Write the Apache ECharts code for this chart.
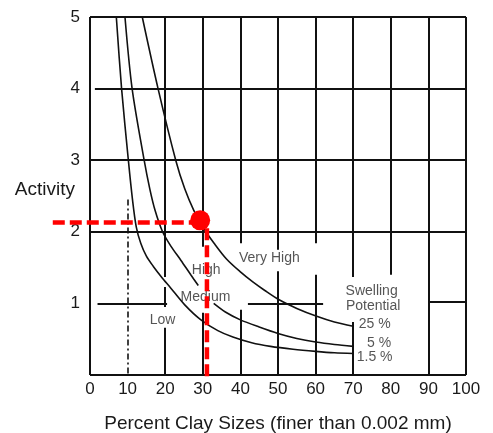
<!DOCTYPE html>
<html>
<head>
<meta charset="utf-8">
<script src="https://cdn.jsdelivr.net/npm/echarts@6/dist/echarts.min.js"></script>
<style>
  html, body { margin: 0; padding: 0; background: #fff; }
  #chart { width: 493px; height: 433px; }
</style>
</head>
<body>
<div id="chart"></div>
<script>
// swelling potential curves, [percent clay, activity]; '-' marks a gap in the drawn line
const curve15 = [[7.0, 5.0], [8.4, 4.0], [10.2, 3.0], [11.3, 2.45], [12.3, 2.07], [13.5, 1.84], [15, 1.66], [16.8, 1.52], [19, 1.37], [21.4, 1.22], [25.2, 0.98], [29.5, 0.77], [34, 0.62], [38, 0.53], [43, 0.45], [48, 0.40], [54, 0.36], [60, 0.33], [65, 0.31], [70, 0.30]];
const curve5 = [[9.3, 5.0], [11.2, 4.0], [14.4, 3.0], [15.9, 2.6], [17.3, 2.3], [19.3, 2.0], [21.5, 1.8], [24.2, 1.6], [26.8, 1.4], [28.8, 1.25], '-', [32.9, 1.0], [36, 0.88], [40, 0.77], [45, 0.67], [50, 0.58], [55, 0.51], [60, 0.46], [65, 0.425], [70, 0.40]];
const curve25 = [[13.9, 5.0], [18.1, 4.0], [22.8, 3.0], [25.2, 2.6], [27.6, 2.3], [30.2, 2.05], [33, 1.84], [36.3, 1.62], [40, 1.44], [43.3, 1.30], [46.5, 1.18], [50.3, 1.05], [55, 0.93], [60.3, 0.82], [65, 0.74], [70, 0.68]];

// hand-drawn grid of the scanned figure, segments [x1, y1, x2, y2]
const gridSegments = [
  [0, 0, 0, 5], [0, 5, 100, 5], [100, 5, 100, 0], [0, 0, 100, 0],
  [1.3, 4, 100, 4], [0, 3, 100, 3], [0, 2, 100, 2],
  [2, 1, 20.5, 1], [42, 1, 62, 1], [90, 1.03, 100, 1.03],
  [20, 5, 20, 1.37], [20, 1.23, 20, 0.95], [20, 0.66, 20, 0],
  [30, 5, 30, 1.79], [30, 0.87, 30, 0],
  [40, 5, 40, 1.84], [40, 0.91, 40, 0],
  [50, 5, 50, 1.75], [50, 1.45, 50, 0],
  [60, 5, 60, 1.84], [60, 1.40, 60, 0],
  [70, 5, 70, 1.37], [70, 0.74, 70, 0],
  [80, 5, 80, 1.40],
  [90, 5, 90, 0]
];
const dottedSegments = [[10, 2.45, 10, 0]];

// region / curve annotations
const noteNames = ['Very High', 'High', 'Medium', 'Low', 'Swelling', 'Potential', '25 %', '5 %', '1.5 %'];
const noteX = [47.7, 30.9, 30.7, 19.3, 74.9, 75.3, 75.7, 76.9, 75.7];
const noteY = [1.63, 1.47, 1.09, 0.77, 1.17, 0.96, 0.71, 0.45, 0.25];

// red read-off: point and its guide lines
const markPoint = [29.3, 2.16];
const guideH = [[-9.9, 2.13], [29.3, 2.13]];
const guideV = [[31.1, 2.05], [31.1, -0.03]];

const FONT = '"Liberation Sans", Arial, sans-serif';
const INK = '#111';
const TEXT = '#1a1a1a';

const chart = echarts.init(document.getElementById('chart'), null, { renderer: 'canvas' });

const toLines = segs => segs.map(s => ({ coords: [[s[0], s[1]], [s[2], s[3]]] }));
const curveSeries = data => ({
  type: 'line', data, symbol: 'none', smooth: 0.3,
  lineStyle: { color: INK, width: 1.6 }, z: 3, silent: true
});

const option = {
  animation: false,
  backgroundColor: '#fff',
  grid: { left: 90, right: 27, top: 17, bottom: 58, outerBoundsMode: 'none', containLabel: false },
  xAxis: {
    type: 'value', min: 0, max: 100, interval: 10,
    axisLine: { show: false }, axisTick: { show: false }, splitLine: { show: false },
    axisLabel: { color: TEXT, fontSize: 17, fontFamily: FONT, margin: 6 },
    name: 'Percent Clay Sizes (finer than 0.002 mm)',
    nameLocation: 'middle', nameGap: 49, nameMoveOverlap: false,
    nameTextStyle: { color: TEXT, fontSize: 19, fontFamily: FONT, verticalAlign: 'middle' }
  },
  yAxis: {
    type: 'value', min: 0, max: 5, interval: 1,
    axisLine: { show: false }, axisTick: { show: false }, splitLine: { show: false },
    axisLabel: { color: TEXT, fontSize: 17, fontFamily: FONT, margin: 10, showMinLabel: false },
    name: 'Activity',
    nameLocation: 'middle', nameRotate: 0, nameGap: 15, nameMoveOverlap: false,
    nameTextStyle: { color: TEXT, fontSize: 19, fontFamily: FONT, align: 'right', verticalAlign: 'bottom', lineHeight: 12 }
  },
  series: [
    {
      type: 'lines', coordinateSystem: 'cartesian2d', polyline: false, silent: true,
      data: toLines(gridSegments),
      lineStyle: { color: INK, width: 2, opacity: 1 }, z: 2
    },
    {
      type: 'lines', coordinateSystem: 'cartesian2d', polyline: false, silent: true,
      data: toLines(dottedSegments),
      lineStyle: { color: INK, width: 1.6, opacity: 1, type: [6, 3, 2, 3] }, z: 2
    },
    curveSeries(curve15),
    curveSeries(curve5),
    curveSeries(curve25),
    {
      type: 'scatter', symbolSize: 0, silent: true, z: 4,
      data: noteNames.map((n, i) => ({ name: n, value: [noteX[i], noteY[i]] })),
      label: { show: true, position: 'inside', formatter: '{b}', color: '#2a2a2a', fontSize: 14, fontFamily: FONT }
    },
    {
      type: 'scatter', data: [markPoint], symbol: 'circle', symbolSize: 20, silent: true, z: 8,
      itemStyle: { color: '#ff0000', opacity: 1 }
    }
  ]
};

chart.setOption(option);

// guide lines run past the axis, so place them through the chart's own scale
const toPx = pts => pts.map(p => chart.convertToPixel({ gridIndex: 0 }, p));
const guideStyle = { stroke: '#ff0000', lineWidth: 4.5, lineDash: [12, 5], fill: null };
chart.setOption({
  graphic: [
    { type: 'polyline', shape: { points: toPx(guideH) }, style: guideStyle, z: 6, silent: true },
    { type: 'polyline', shape: { points: toPx(guideV) }, style: guideStyle, z: 6, silent: true }
  ]
});
window.addEventListener('resize', () => chart.resize());
</script>
</body>
</html>
